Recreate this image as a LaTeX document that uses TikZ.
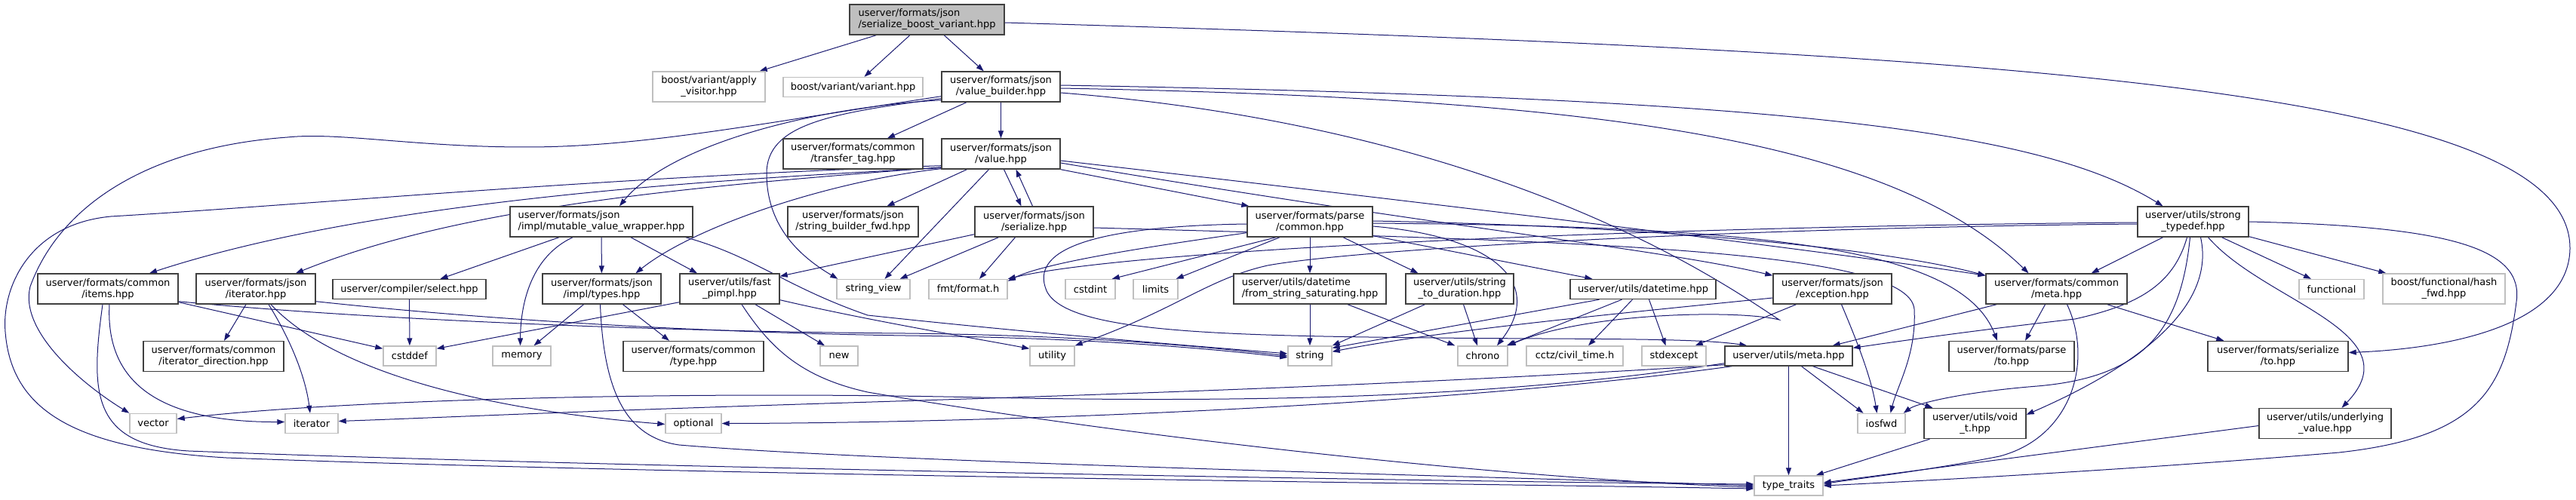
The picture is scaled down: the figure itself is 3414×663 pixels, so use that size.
\documentclass[tikz,border=0pt]{standalone}
\usepackage{fontspec}
\setmainfont{DejaVu Sans}
\usetikzlibrary{arrows.meta}
\definecolor{depblue}{HTML}{191970}
\definecolor{boxline}{HTML}{404040}
\definecolor{extline}{HTML}{BFBFBF}
\definecolor{rootfill}{HTML}{BFBFBF}
\pgfdeclarelayer{edges}
\pgfsetlayers{edges,main}

\begin{document}
\begin{tikzpicture}[
  x=1pt, y=-1pt,
  font=\fontsize{13}{15}\selectfont,
  header/.style={rectangle, draw=boxline, line width=1.4pt, fill=white, inner sep=0pt, align=center, minimum height=40pt},
  extheader/.style={header, draw=extline},
  mainheader/.style={header, fill=rootfill, align=left},
  oneline/.style={minimum height=26pt},
  dep/.style={draw=depblue, line width=1pt, -{Triangle[length=10pt,width=7pt]}}
]
\useasboundingbox (0,0) rectangle (3414,663);

% Row 0: the file itself
\node[mainheader, minimum width=205pt] (root) at (1228.5,26) {userver/formats/json\\/serialize\_boost\_variant.hpp};

% Row 1
\node[extheader, minimum width=149pt] (applyvis) at (939.5,115) {boost/variant/apply\\\_visitor.hpp};
\node[extheader, oneline, minimum width=185pt] (variant) at (1130.5,115.5) {boost/variant/variant.hpp};
\node[header, minimum width=157pt] (vbuilder) at (1326.5,115) {userver/formats/json\\/value\_builder.hpp};

% Row 2
\node[header, minimum width=185pt] (transfer) at (1130.5,204) {userver/formats/common\\/transfer\_tag.hpp};
\node[header, minimum width=157pt] (value) at (1326.5,204) {userver/formats/json\\/value.hpp};

% Row 3
\node[header, align=left, minimum width=242pt] (mvw) at (797,294) {userver/formats/json\\/impl/mutable\_value\_wrapper.hpp};
\node[header, minimum width=173pt] (strbfwd) at (1130.5,294) {userver/formats/json\\/string\_builder\_fwd.hpp};
\node[header, minimum width=157pt] (serialize) at (1370.5,294) {userver/formats/json\\/serialize.hpp};
\node[header, minimum width=166pt] (pcommon) at (1736,294) {userver/formats/parse\\/common.hpp};
\node[header, minimum width=147pt] (strongtd) at (2906.5,294) {userver/utils/strong\\\_typedef.hpp};

% Row 4
\node[header, minimum width=186pt] (items) at (143,383) {userver/formats/common\\/items.hpp};
\node[header, minimum width=158pt] (jiter) at (339,383) {userver/formats/json\\/iterator.hpp};
\node[header, oneline, minimum width=203pt] (select) at (542.5,383.5) {userver/compiler/select.hpp};
\node[header, minimum width=157pt] (types) at (797.5,383) {userver/formats/json\\/impl/types.hpp};
\node[header, minimum width=132pt] (fpimpl) at (967,383) {userver/utils/fast\\\_pimpl.hpp};
\node[extheader, oneline, minimum width=97pt] (stringview) at (1157.5,383.5) {string\_view};
\node[extheader, oneline, minimum width=104pt] (fmt) at (1283,383.5) {fmt/format.h};
\node[extheader, oneline, minimum width=66pt] (cstdint) at (1445,383.5) {cstdint};
\node[extheader, oneline, minimum width=59pt] (limits) at (1531.5,383.5) {limits};
\node[header, align=left, minimum width=202pt] (fromstr) at (1736,383) {userver/utils/datetime\\/from\_string\_saturating.hpp};
\node[header, minimum width=143pt] (strtodur) at (1934.5,383) {userver/utils/string\\\_to\_duration.hpp};
\node[header, oneline, minimum width=193pt] (datetime) at (2177.5,383.5) {userver/utils/datetime.hpp};
\node[header, minimum width=157pt] (exception) at (2428.5,383) {userver/formats/json\\/exception.hpp};
\node[header, minimum width=187pt] (cmeta) at (2725.5,383) {userver/formats/common\\/meta.hpp};
\node[extheader, oneline, minimum width=86pt] (functional) at (3090,383.5) {functional};
\node[extheader, minimum width=162pt] (hashfwd) at (3239,383) {boost/functional/hash\\\_fwd.hpp};

% Row 5
\node[header, minimum width=186pt] (iterdir) at (283,472.5) {userver/formats/common\\/iterator\_direction.hpp};
\node[extheader, oneline, minimum width=70pt] (cstddef) at (543,472) {cstddef};
\node[extheader, oneline, minimum width=77pt] (memory) at (691.5,472) {memory};
\node[header, minimum width=186pt] (ctype) at (919,472.5) {userver/formats/common\\/type.hpp};
\node[extheader, oneline, minimum width=50pt] (new) at (1112,472) {new};
\node[extheader, oneline, minimum width=59pt] (utility) at (1394.5,472) {utility};
\node[extheader, oneline, minimum width=58pt] (string) at (1736,472) {string};
\node[extheader, oneline, minimum width=66pt] (chrono) at (1965,472) {chrono};
\node[extheader, oneline, minimum width=128pt] (cctz) at (2087,472) {cctz/civil\_time.h};
\node[extheader, oneline, minimum width=85pt] (stdexcept) at (2218.5,472) {stdexcept};
\node[header, oneline, minimum width=169pt] (umeta) at (2370.5,472) {userver/utils/meta.hpp};
\node[header, minimum width=166pt] (pto) at (2666,472.5) {userver/formats/parse\\/to.hpp};
\node[header, minimum width=186pt] (sto) at (3019,472.5) {userver/formats/serialize\\/to.hpp};

% Row 6
\node[extheader, oneline, minimum width=62pt] (vector) at (203,561.5) {vector};
\node[extheader, oneline, minimum width=70pt] (iterator) at (413,561.5) {iterator};
\node[extheader, oneline, minimum width=74pt] (optional) at (919,561.5) {optional};
\node[extheader, oneline, minimum width=63pt] (iosfwd) at (2493.5,561.5) {iosfwd};
\node[header, minimum width=135pt] (voidt) at (2617.5,561.5) {userver/utils/void\\\_t.hpp};
\node[header, minimum width=175pt] (underlying) at (3081.5,561.5) {userver/utils/underlying\\\_value.hpp};

% Row 7
\node[extheader, oneline, minimum width=91pt] (typetraits) at (2370.5,644) {type\_traits};

\begin{pgfonlayer}{edges}
% serialize_boost_variant.hpp
\draw[dep] (root) -- (applyvis);
\draw[dep] (root) -- (variant);
\draw[dep] (root) -- (vbuilder);
\draw[dep] ([yshift=-4pt]root.east) .. controls (2700,70) and (3408,120) .. (3406,330) .. controls (3404,430) and (3250,462) .. ([yshift=5pt]sto.east);

% value_builder.hpp
\draw[dep] (vbuilder) -- (transfer);
\draw[dep] (vbuilder) -- (value);
\draw[dep] ([yshift=3pt]vbuilder.south west) .. controls (1050,145) and (880,200) .. ([xshift=24pt]mvw.north);
\draw[dep] ([yshift=2pt]vbuilder.east) .. controls (2350,130) and (2700,170) .. ([xshift=-40pt]strongtd.north);
\draw[dep] ([yshift=-2pt]vbuilder.east) .. controls (2100,130) and (2500,180) .. ([xshift=-37pt]cmeta.north);
\draw[dep] ([yshift=-8pt]vbuilder.east) .. controls (2000,170) and (2290,380) .. (2358,424) .. controls (2300,410) and (2100,415) .. (chrono.north east);
\draw[dep] ([yshift=5pt]vbuilder.south west) .. controls (1100,150) and (1016,165) .. (1016,230) .. controls (1016,300) and (1060,340) .. ([xshift=2pt]stringview.north west);
\draw[dep] ([yshift=8pt]vbuilder.south west) .. controls (1000,165) and (850,195) .. (697,195) .. controls (550,195) and (450,175) .. (381,182) .. controls (200,195) and (80,270) .. (40,380) .. controls (25,440) and (110,510) .. (vector.north west);

% value.hpp
\draw[dep] ([yshift=2pt]value.south west) .. controls (900,240) and (480,270) .. ([xshift=55pt]items.north);
\draw[dep] ([yshift=3pt]value.south west) .. controls (950,245) and (620,270) .. ([xshift=53pt]jiter.north);
\draw[dep] ([yshift=5pt]value.south west) .. controls (800,235) and (400,272) .. (147,287) .. controls (40,297) and (2,380) .. (7,440) .. controls (15,545) and (100,595) .. (300,607) .. controls (900,630) and (2000,642) .. ([yshift=-4pt]typetraits.west);
\draw[dep] ([yshift=1pt]value.south west) .. controls (1100,240) and (920,300) .. ([xshift=45pt]types.north);
\draw[dep] (value) -- (strbfwd);
\draw[dep] ([xshift=4pt]value.south) -- ([xshift=-17pt]serialize.north);
\draw[dep] ([xshift=-2pt]serialize.north) -- ([xshift=20pt]value.south);
\draw[dep] (value.south east) -- ([xshift=3pt]pcommon.north west);
\draw[dep] ([xshift=-16pt]value.south) -- ([xshift=15pt]stringview.north);
\draw[dep] ([yshift=-9pt]value.east) .. controls (1900,270) and (2400,330) .. ([yshift=-3pt]cmeta.north west);
\draw[dep] ([yshift=-12pt]value.east) .. controls (1900,300) and (2200,330) .. ([yshift=-3pt]exception.north west);

% serialize.hpp
\draw[dep] ([yshift=4pt]serialize.south west) -- ([yshift=-4pt]fpimpl.north east);
\draw[dep] ([xshift=-47pt]serialize.south) -- ([xshift=-14pt]stringview.north east);
\draw[dep] ([xshift=-25pt]serialize.south) -- ([xshift=15pt]fmt.north);
\draw[dep] ([yshift=-8pt]serialize.east) .. controls (2100,320) and (2530,330) .. (2537,410) .. controls (2540,470) and (2515,510) .. ([xshift=12pt]iosfwd.north);

% parse/common.hpp
\draw[dep] ([yshift=6pt]pcommon.south west) .. controls (1500,330) and (1380,350) .. ([yshift=-3pt]fmt.north east);
\draw[dep] ([xshift=-45pt]pcommon.south) -- ([xshift=-5pt]cstdint.north east);
\draw[dep] ([xshift=-40pt]pcommon.south) -- ([xshift=-3pt]limits.north east);
\draw[dep] (pcommon) -- (fromstr);
\draw[dep] ([xshift=44pt]pcommon.south) -- ([xshift=-55pt]strtodur.north);
\draw[dep] ([yshift=2pt]pcommon.south east) -- ([xshift=30pt]datetime.north west);
\draw[dep] ([yshift=-6pt]pcommon.east) .. controls (1990,315) and (2045,380) .. ([xshift=19pt]chrono.north);
\draw[dep] ([yshift=-3pt]pcommon.west) .. controls (1450,300) and (1370,330) .. (1385,380) .. controls (1400,440) and (1600,445) .. (1900,448) .. controls (2100,450) and (2250,448) .. ([xshift=30pt]umeta.north west);
\draw[dep] ([yshift=1pt]pcommon.east) .. controls (2200,300) and (2500,330) .. ([yshift=-3pt]cmeta.north west);
\draw[dep] ([yshift=-2pt]pcommon.east) .. controls (2350,300) and (2600,330) .. ([xshift=-19pt]pto.north);

% strong_typedef.hpp
\draw[dep] ([yshift=-1pt]strongtd.west) .. controls (2200,300) and (1500,330) .. (fmt.north east);
\draw[dep] ([yshift=-3pt]strongtd.west) .. controls (2300,302) and (1800,330) .. (1680,352) .. controls (1600,370) and (1560,410) .. (utility.north east);
\draw[dep] ([xshift=-40pt]strongtd.south) -- ([xshift=-48pt]cmeta.north east);
\draw[dep] ([xshift=-8pt]strongtd.south) .. controls (2880,380) and (2830,405) .. (2750,423) .. controls (2600,440) and (2500,455) .. ([yshift=-3pt]umeta.north east);
\draw[dep] ([xshift=-4pt]strongtd.south) .. controls (2890,440) and (2840,500) .. (2700,512) .. controls (2600,520) and (2540,535) .. ([xshift=-3pt]iosfwd.north east);
\draw[dep] ([xshift=10pt]strongtd.south) .. controls (2940,420) and (2800,500) .. ([yshift=-9pt]voidt.north east);
\draw[dep] ([xshift=20pt]strongtd.south) .. controls (3000,400) and (3200,440) .. ([xshift=22pt]underlying.north);
\draw[dep] ([xshift=38pt]strongtd.south) -- ([xshift=-27pt]functional.north);
\draw[dep] ([yshift=1pt]strongtd.south east) -- ([xshift=5pt]hashfwd.north west);
\draw[dep] (strongtd.east) .. controls (3250,300) and (3345,330) .. (3335,400) .. controls (3320,520) and (3280,580) .. (3100,600) .. controls (2800,625) and (2500,640) .. (typetraits.east);

% common/meta.hpp
\draw[dep] ([xshift=15pt]cmeta.south west) -- ([xshift=-27pt]umeta.north east);
\draw[dep] ([xshift=-15pt]cmeta.south) -- ([xshift=18pt]pto.north);
\draw[dep] ([xshift=-27pt]cmeta.south east) -- ([xshift=22pt]sto.north west);
\draw[dep] ([xshift=14pt]cmeta.south) .. controls (2775,480) and (2745,580) .. (2650,605) .. controls (2550,625) and (2450,636) .. ([yshift=2pt]typetraits.east);

% utils/meta.hpp
\draw[dep] ([xshift=17pt]umeta.south) -- ([xshift=-24pt]iosfwd.north);
\draw[dep] ([xshift=32pt]umeta.south) -- ([xshift=12pt]voidt.north west);
\draw[dep] (umeta) -- (typetraits);
\draw[dep] ([yshift=4pt]umeta.south west) .. controls (2000,525) and (1700,535) .. (1300,527) .. controls (900,518) and (450,530) .. ([yshift=6pt]vector.east);
\draw[dep] ([yshift=2pt]umeta.south west) .. controls (1800,515) and (1300,528) .. (1000,538) .. controls (700,548) and (550,555) .. ([yshift=3pt]iterator.east);
\draw[dep] ([xshift=10pt]umeta.south west) .. controls (1900,540) and (1300,561) .. (optional.east);

% json/exception.hpp
\draw[dep] ([xshift=-48pt]exception.south) -- ([xshift=-15pt]stdexcept.north east);
\draw[dep] ([xshift=12pt]exception.south) .. controls (2460,450) and (2480,500) .. ([xshift=-6pt]iosfwd.north);
\draw[dep] ([yshift=-12pt]exception.west) .. controls (2100,420) and (1900,440) .. ([yshift=-8pt]string.north east);

% utils/datetime.hpp
\draw[dep] ([xshift=-58pt]datetime.south) -- ([yshift=-3pt]string.north east);
\draw[dep] ([xshift=-28pt]datetime.south) -- ([xshift=-2pt]chrono.north east);
\draw[dep] ([xshift=-14pt]datetime.south) -- ([xshift=18pt]cctz.north);
\draw[dep] ([xshift=8pt]datetime.south) -- ([xshift=-11pt]stdexcept.north);

% from_string_saturating.hpp, string_to_duration.hpp
\draw[dep] (fromstr) -- (string);
\draw[dep] ([xshift=50pt]fromstr.south) -- ([xshift=-3pt]chrono.north west);
\draw[dep] ([xshift=-46pt]strtodur.south) -- (string.north east);
\draw[dep] ([xshift=5pt]strtodur.south) -- ([xshift=-7pt]chrono.north);

% impl/mutable_value_wrapper.hpp
\draw[dep] ([xshift=-56pt]mvw.south) -- ([xshift=41pt]select.north);
\draw[dep] ([xshift=-38pt]mvw.south) .. controls (705,340) and (690,400) .. ([xshift=-2pt]memory.north);
\draw[dep] (mvw) -- (types);
\draw[dep] ([xshift=39pt]mvw.south) -- ([xshift=-43pt]fpimpl.north);
\draw[dep] ([xshift=-10pt]mvw.south east) .. controls (1000,340) and (1040,380) .. (1150,418) .. controls (1400,445) and (1600,460) .. ([yshift=3pt]string.west);

% impl/types.hpp
\draw[dep] ([xshift=-24pt]types.south) -- ([xshift=16pt]memory.north);
\draw[dep] ([xshift=28pt]types.south) -- ([xshift=-32pt]ctype.north);
\draw[dep] ([xshift=-2pt]types.south) .. controls (800,520) and (830,580) .. (900,590) .. controls (1200,615) and (2000,632) .. (typetraits.west);

% fast_pimpl.hpp
\draw[dep] ([yshift=3pt]fpimpl.south west) -- ([yshift=-4pt]cstddef.north east);
\draw[dep] ([xshift=34pt]fpimpl.south) -- ([xshift=-19pt]new.north);
\draw[dep] ([yshift=6pt]fpimpl.south east) .. controls (1150,425) and (1300,450) .. ([yshift=-4pt]utility.north west);
\draw[dep] ([xshift=16pt]fpimpl.south) .. controls (1020,460) and (1060,500) .. (1150,520) .. controls (1500,580) and (2000,635) .. ([yshift=-2pt]typetraits.west);

% common/items.hpp
\draw[dep] ([yshift=3pt]items.south east) -- ([yshift=-4pt]cstddef.north west);
\draw[dep] ([yshift=4pt]items.south east) .. controls (500,425) and (900,440) .. (1200,442) .. controls (1450,445) and (1600,460) .. (string.west);
\draw[dep] ([xshift=2pt]items.south) .. controls (140,500) and (200,560) .. ([yshift=2pt]iterator.west);
\draw[dep] ([xshift=-7pt]items.south) .. controls (120,520) and (120,590) .. (250,598) .. controls (800,620) and (2000,640) .. ([yshift=2pt]typetraits.west);

% json/iterator.hpp
\draw[dep] ([xshift=-13pt]jiter.south) -- ([xshift=14pt]iterdir.north);
\draw[dep] ([xshift=17pt]jiter.south) .. controls (385,450) and (405,500) .. ([xshift=-2pt]iterator.north);
\draw[dep] ([xshift=20pt]jiter.south) .. controls (430,480) and (600,540) .. ([yshift=-1pt]optional.west);
\draw[dep] ([yshift=4pt]jiter.south east) .. controls (700,430) and (1000,442) .. (1200,445) .. controls (1450,448) and (1600,462) .. ([yshift=-2pt]string.west);
\draw[dep] (select) -- (cstddef);

% void_t.hpp, underlying_value.hpp
\draw[dep] ([xshift=-60pt]voidt.south) -- ([xshift=-10pt]typetraits.north east);
\draw[dep] ([yshift=-3pt]underlying.west) -- ([yshift=4pt]typetraits.east);
\end{pgfonlayer}

\end{tikzpicture}
\end{document}
